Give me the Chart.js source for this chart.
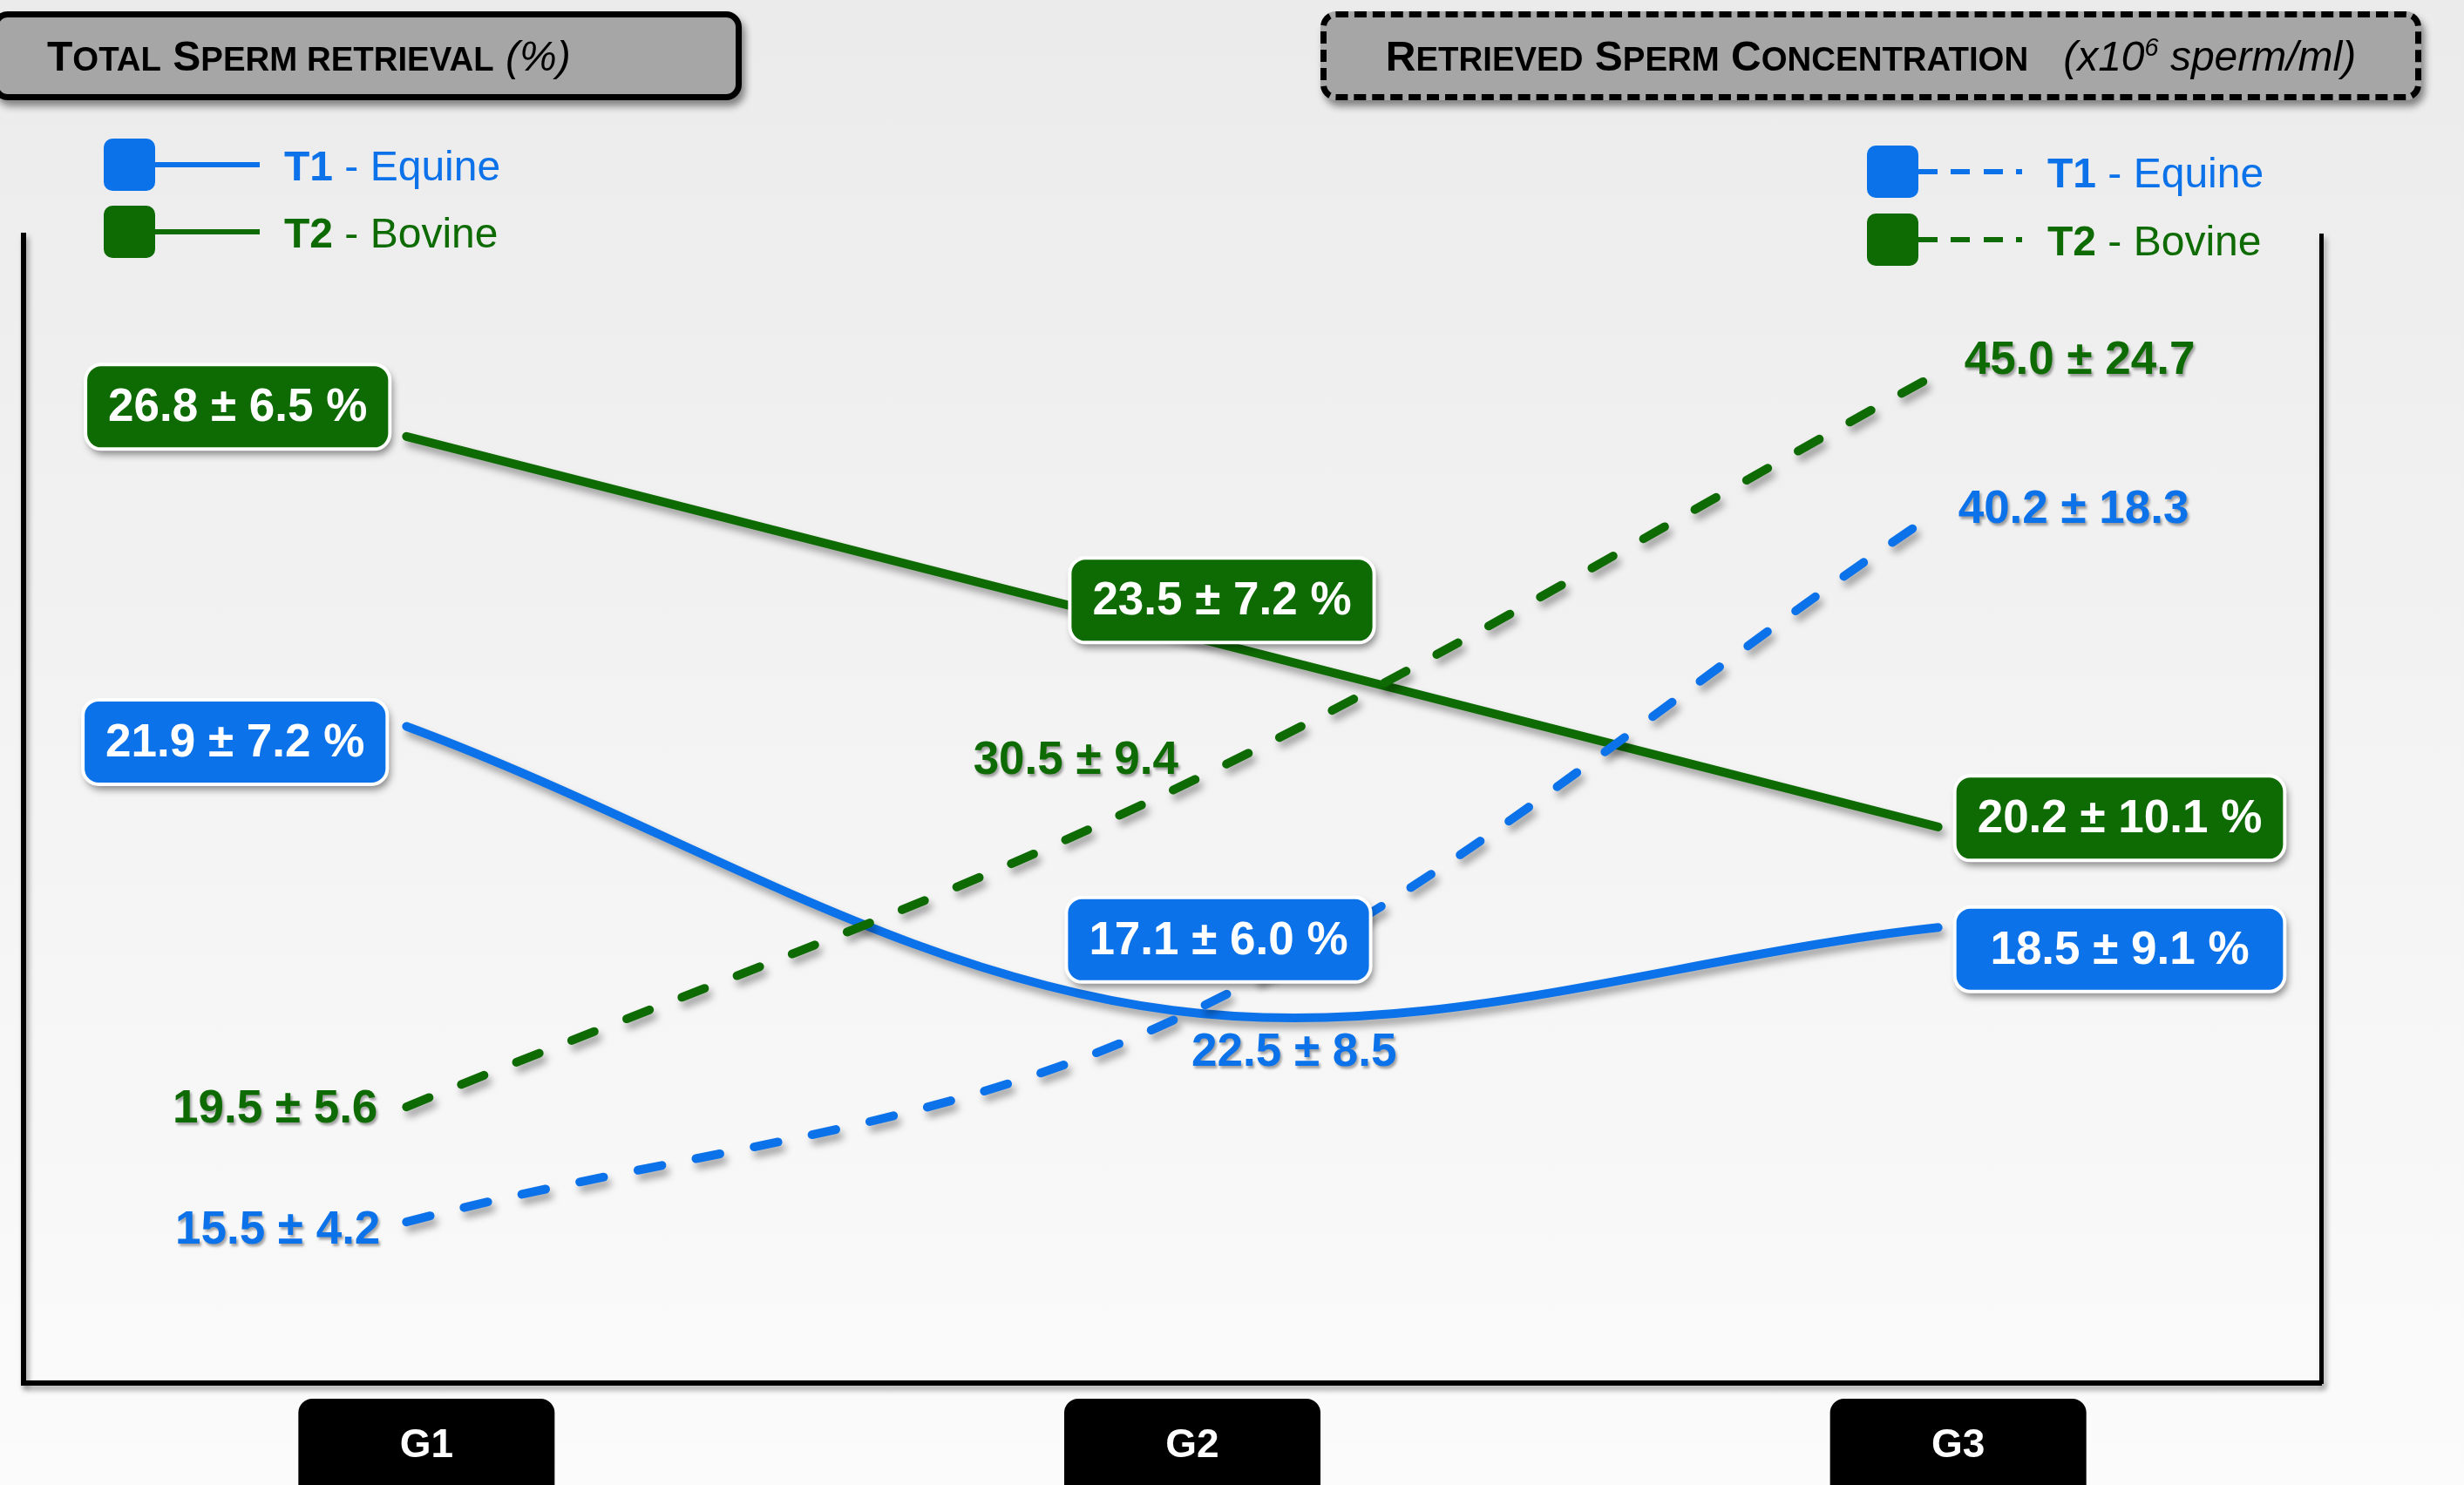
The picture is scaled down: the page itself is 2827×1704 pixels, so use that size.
<!DOCTYPE html>
<html>
<head>
<meta charset="utf-8">
<script src="https://cdn.jsdelivr.net/npm/chart.js@4.4.1/dist/chart.umd.min.js"></script>
<style>
body { margin: 0; }
#wrap { position: relative; width: 2827px; height: 1704px; overflow: hidden;
  background: linear-gradient(#ebebeb, #fbfbfb); font-family: "Liberation Sans", Arial, sans-serif; }
#chart { position: absolute; left: 0; top: 0; }
.title { position: absolute; top: 13px; height: 102px; box-sizing: border-box; background: #a6a6a6;
  border: 7px solid #000; border-radius: 18px; box-shadow: 4px 7px 8px rgba(0,0,0,0.45);
  display: flex; align-items: center; white-space: nowrap;
  font-family: "Liberation Sans", Arial, sans-serif; font-size: 48px; color: #000; }
.title .sc { font-weight: bold; }
.title .sc i { font-style: normal; text-transform: uppercase; font-size: 0.8em; }
.title .it { font-style: italic; font-weight: normal; }
.title sup { font-size: 0.6em; }
#t1 { left: -9px; width: 860px; padding-left: 56px; }
#t2 { left: 1515px; width: 1263px; justify-content: center; border-style: dashed; }
.leg { position: absolute; height: 60px; }
.leg .sq { position: absolute; left: 0; top: 0; width: 59px; height: 60px; border-radius: 10px; }
.leg .ln { position: absolute; left: 59px; top: 27px; width: 120px; height: 6px; }
.leg .tx { position: absolute; left: 207px; top: 31px; transform: translateY(-50%); white-space: nowrap;
  font-family: "Liberation Sans", Arial, sans-serif; font-size: 48px; }
.leg .tx b { font-weight: bold; }
</style>
</head>
<body>
<div id="wrap">
  <canvas id="chart" width="2827" height="1704"></canvas>
  <div class="title" id="t1"><span class="sc">T<i>otal</i> S<i>perm retrieval</i></span>&nbsp;<span class="it">(%)</span></div>
  <div class="title" id="t2"><span class="sc">R<i>etrieved</i> S<i>perm</i> C<i>oncentration</i></span>&nbsp;&nbsp;&nbsp;<span class="it">(x10<sup>6</sup> sperm/ml)</span></div>
</div>
<script>
var groups = ['G1', 'G2', 'G3']
var treatments = ['T1', 'T2']
var treatmentNames = ['Equine', 'Bovine']

// total sperm retrieval (%), mean and sd
var retrievalT1 = [21.9, 17.1, 18.5]
var retrievalT1Sd = [7.2, 6.0, 9.1]
var retrievalT2 = [26.8, 23.5, 20.2]
var retrievalT2Sd = [6.5, 7.2, 10.1]

// retrieved sperm concentration (x10^6 sperm/ml), mean and sd
var concT1 = [15.5, 22.5, 40.2]
var concT1Sd = [4.2, 8.5, 18.3]
var concT2 = [19.5, 30.5, 45.0]
var concT2Sd = [5.6, 9.4, 24.7]

var blue = '#0c72ea'
var green = '#0e6b03'

// where each value label sits relative to its point: [anchor, dx, dy]
var spotsRetT2 = [['right', -19, -34], ['center', 57, -36], ['left', 19, -10]]
var spotsRetT1 = [['right', -22, 18], ['center', 53, -81], ['left', 19, 25]]
var spotsConcT2 = [['right', -33, 3], ['right', 7, -34], ['left', 30, -14]]
var spotsConcT1 = [['right', -30, 10], ['left', 22, 37], ['left', 23, -1]]

var labelFont = 'bold 53px "Liberation Sans", Arial, sans-serif'

function roundRect(ctx, x, y, w, h, r) {
    ctx.beginPath()
    ctx.moveTo(x + r, y)
    ctx.arcTo(x + w, y, x + w, y + h, r)
    ctx.arcTo(x + w, y + h, x, y + h, r)
    ctx.arcTo(x, y + h, x, y, r)
    ctx.arcTo(x, y, x + w, y, r)
    ctx.closePath()
}

function labelText(ds, j) {
    return ds.data[j].toFixed(1) + ' \u00b1 ' + ds.sd[j].toFixed(1) + ds.unit
}

// drop shadows on axes and lines
var shadows = {
    id: 'shadows',
    beforeDraw: function(chart) {
        var ctx = chart.ctx
        ctx.save()
        ctx.shadowColor = 'rgba(0,0,0,0.35)'
        ctx.shadowBlur = 6
        ctx.shadowOffsetX = 3
        ctx.shadowOffsetY = 5
    },
    beforeDatasetsDraw: function(chart) {
        chart.ctx.restore()
    },
    beforeDatasetDraw: function(chart) {
        var ctx = chart.ctx
        ctx.save()
        ctx.shadowColor = 'rgba(0,0,0,0.35)'
        ctx.shadowBlur = 8
        ctx.shadowOffsetX = 4
        ctx.shadowOffsetY = 7
    },
    afterDatasetDraw: function(chart) {
        chart.ctx.restore()
    }
}

var valueLabels = {
    id: 'valueLabels',
    afterDatasetsDraw: function(chart) {
        var ctx = chart.ctx
        var dsets = chart.data.datasets
        ctx.save()
        ctx.font = labelFont
        // boxed labels of one group share a width
        var boxW = groups.map(function(g, j) {
            var m = 0
            dsets.forEach(function(ds) {
                if (ds.boxed) m = Math.max(m, ctx.measureText(labelText(ds, j)).width)
            })
            return m + 52
        })
        dsets.forEach(function(ds, i) {
            var meta = chart.getDatasetMeta(i)
            meta.data.forEach(function(pt, j) {
                var spot = ds.spots[j]
                var text = labelText(ds, j)
                ctx.save()
                ctx.textBaseline = 'middle'
                if (ds.boxed) {
                    var bw = boxW[j], bh = 97
                    var x
                    if (spot[0] == 'right') x = pt.x + spot[1] - bw
                    else if (spot[0] == 'left') x = pt.x + spot[1]
                    else x = pt.x + spot[1] - bw / 2
                    var y = pt.y + spot[2] - bh / 2
                    ctx.shadowColor = 'rgba(0,0,0,0.45)'
                    ctx.shadowBlur = 8
                    ctx.shadowOffsetX = 3
                    ctx.shadowOffsetY = 6
                    roundRect(ctx, x, y, bw, bh, 18)
                    ctx.fillStyle = ds.borderColor
                    ctx.fill()
                    ctx.shadowColor = 'transparent'
                    ctx.lineWidth = 4
                    ctx.strokeStyle = '#fff'
                    ctx.stroke()
                    ctx.fillStyle = '#fff'
                    ctx.textAlign = 'center'
                    ctx.fillText(text, x + bw / 2, y + bh / 2 + 2)
                } else {
                    ctx.shadowColor = 'rgba(0,0,0,0.35)'
                    ctx.shadowBlur = 3
                    ctx.shadowOffsetX = 2
                    ctx.shadowOffsetY = 3
                    ctx.fillStyle = ds.borderColor
                    ctx.textAlign = spot[0]
                    ctx.fillText(text, pt.x + spot[1], pt.y + spot[2])
                }
                ctx.restore()
            })
        })
        ctx.restore()
    }
}

// group names in black tabs under the axis
var groupTabs = {
    id: 'groupTabs',
    afterDraw: function(chart) {
        var ctx = chart.ctx
        var xs = chart.scales.x
        ctx.save()
        groups.forEach(function(g, i) {
            var cx = xs.getPixelForValue(i) + 23
            roundRect(ctx, cx - 147, chart.chartArea.bottom + 18, 294, 130, 16)
            ctx.fillStyle = '#000'
            ctx.fill()
            ctx.fillStyle = '#fff'
            ctx.font = 'bold 46px "Liberation Sans", Arial, sans-serif'
            ctx.textAlign = 'center'
            ctx.textBaseline = 'middle'
            ctx.fillText(g, cx, chart.chartArea.bottom + 72)
        })
        ctx.restore()
    }
}

var lineBase = { pointRadius: 0, pointHoverRadius: 0, borderWidth: 10, borderCapStyle: 'round',
    borderJoinStyle: 'round', tension: 0.35, fill: false, clip: false }

var chart = new Chart(document.getElementById('chart').getContext('2d'), {
    type: 'line',
    data: {
        labels: groups,
        datasets: [
            Object.assign({}, lineBase, { label: treatments[1] + ' - ' + treatmentNames[1], data: retrievalT2, sd: retrievalT2Sd,
                unit: ' %', boxed: true, spots: spotsRetT2, borderColor: green, yAxisID: 'y', order: 2 }),
            Object.assign({}, lineBase, { label: treatments[0] + ' - ' + treatmentNames[0], data: retrievalT1, sd: retrievalT1Sd,
                unit: ' %', boxed: true, spots: spotsRetT1, borderColor: blue, yAxisID: 'y', order: 2 }),
            Object.assign({}, lineBase, { label: treatments[1] + ' - ' + treatmentNames[1], data: concT2, sd: concT2Sd,
                unit: '', boxed: false, spots: spotsConcT2, borderColor: green, borderDash: [28, 40], yAxisID: 'y2', order: 1 }),
            Object.assign({}, lineBase, { label: treatments[0] + ' - ' + treatmentNames[0], data: concT1, sd: concT1Sd,
                unit: '', boxed: false, spots: spotsConcT1, borderColor: blue, borderDash: [28, 40], yAxisID: 'y2', order: 1 })
        ]
    },
    options: {
        responsive: false,
        animation: false,
        devicePixelRatio: 1,
        layout: { padding: { left: 27, right: 164, top: 270, bottom: 117 } },
        plugins: { legend: { display: false }, tooltip: { enabled: false } },
        scales: {
            x: { offset: true, ticks: { display: false }, grid: { display: false, drawTicks: false },
                border: { display: true, color: '#000', width: 6 } },
            y: { position: 'left', min: 10.8, max: 30.2, ticks: { display: false },
                grid: { display: false, drawTicks: false }, border: { display: true, color: '#000', width: 6 } },
            y2: { position: 'right', min: 9.9, max: 49.8, ticks: { display: false },
                grid: { display: false, drawTicks: false }, border: { display: true, color: '#000', width: 5, dash: [22, 18] } }
        }
    },
    plugins: [shadows, valueLabels, groupTabs]
})

// legends: solid lines for retrieval (left), dashed lines for concentration (right)
var wrap = document.getElementById('wrap')
function addLegend(left, tops, dashed) {
    treatments.forEach(function(t, i) {
        var col = i == 0 ? blue : green
        var bg = dashed
            ? 'repeating-linear-gradient(to right, ' + col + ' 0 22px, transparent 22px 37.5px)'
            : col
        var d = document.createElement('div')
        d.className = 'leg'
        d.style.left = left + 'px'
        d.style.top = tops[i] + 'px'
        d.innerHTML = '<div class="sq" style="background:' + col + '"></div>' +
            '<div class="ln" style="background:' + bg + (dashed ? ';width:119px' : '') + '"></div>' +
            '<div class="tx" style="color:' + col + '"><b>' + t + '</b> - ' + treatmentNames[i] + '</div>'
        wrap.appendChild(d)
    })
}
addLegend(119, [159, 236], false)
addLegend(2142, [167, 245], true)
</script>
</body>
</html>
